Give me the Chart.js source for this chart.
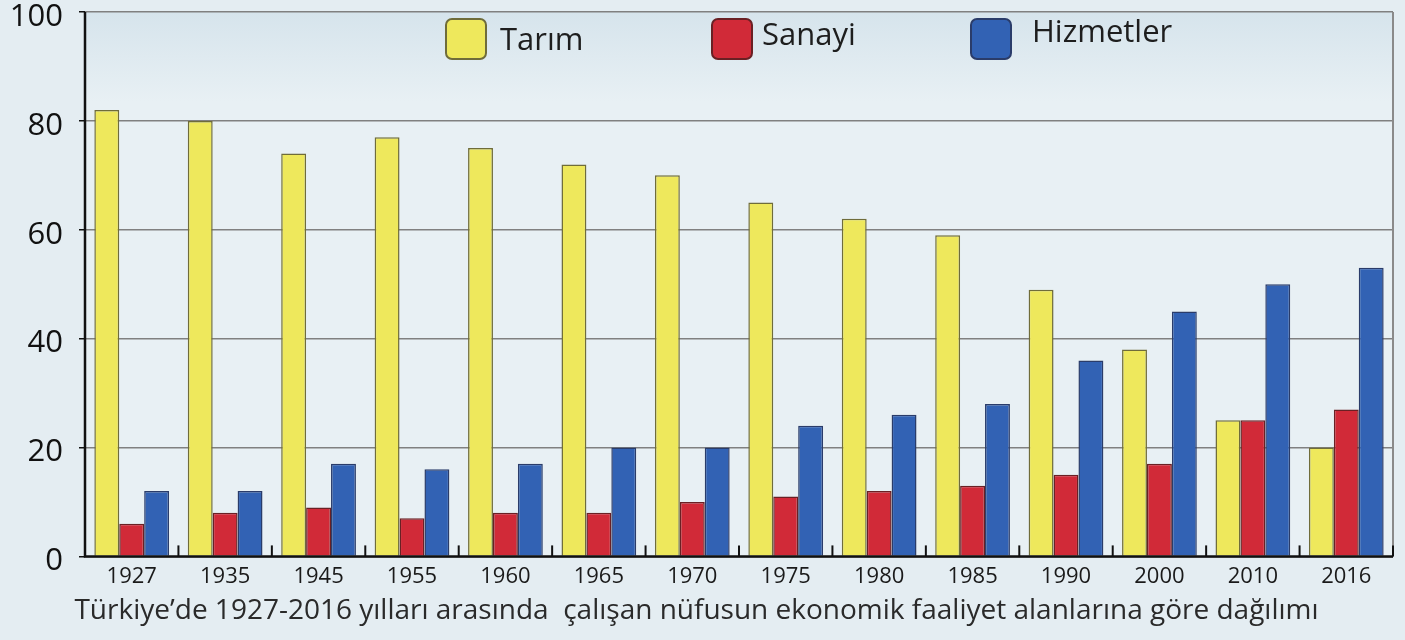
<!DOCTYPE html>
<html>
<head>
<meta charset="utf-8">
<script src="https://cdn.jsdelivr.net/npm/chart.js@4"></script>
<style>
  body { margin: 0; background: #e4edf2; }
  #wrap { width: 1405px; height: 640px; }
</style>
</head>
<body>
<div id="wrap"><canvas id="myChart" width="1405" height="640"></canvas></div>
<script>
const ctx = document.getElementById('myChart');

const years = ["1927", "1935", "1945", "1955", "1960", "1965", "1970", "1975", "1980", "1985", "1990", "2000", "2010", "2016"]
const tarim = [82, 80, 74, 77, 75, 72, 70, 65, 62, 59, 49, 38, 25, 20]
const sanayi = [6, 8, 9, 7, 8, 8, 10, 11, 12, 13, 15, 17, 25, 27]
const hizmetler = [12, 12, 17, 16, 17, 20, 20, 24, 26, 28, 36, 45, 50, 53]
const yTicks = [0, 20, 40, 60, 80, 100]
const title = "Türkiye’de 1927-2016 yılları arasında  çalışan nüfusun ekonomik faaliyet alanlarına göre dağılımı"

// legend spots inside the plot, like the picture
const legendSpots = [
  {box: 446, text: 500, ty: 41},
  {box: 712, text: 762, ty: 36},
  {box: 971, text: 1032, ty: 33}
]

Chart.defaults.font.family = "'Open Sans', sans-serif";
Chart.defaults.color = '#222';

const decor = {
  id: 'decor',
  beforeDraw(chart) {
    const c = chart.ctx, a = chart.chartArea;
    c.save();
    c.fillStyle = '#e4edf2';
    c.fillRect(0, 0, chart.width, chart.height);
    let g = c.createLinearGradient(0, a.top, 0, a.top + 90);
    g.addColorStop(0, '#d6e4ec');
    g.addColorStop(1, '#e8f0f4');
    c.fillStyle = g;
    c.fillRect(a.left, a.top, a.right - a.left, a.bottom - a.top);
    c.restore();
  },
  afterDraw(chart) {
    const c = chart.ctx, a = chart.chartArea, x = chart.scales.x;
    c.save();
    // right border
    c.strokeStyle = '#8a8a8a';
    c.lineWidth = 2;
    c.beginPath();
    c.moveTo(a.right, a.top);
    c.lineTo(a.right, a.bottom);
    c.stroke();
    // axes
    c.strokeStyle = '#111';
    c.lineWidth = 2.5;
    c.beginPath();
    c.moveTo(a.left, a.top);
    c.lineTo(a.left, a.bottom);
    c.lineTo(a.right, a.bottom);
    c.stroke();
    // inward ticks between the year groups
    c.lineWidth = 2;
    for (let i = 0; i < years.length; i++) {
      let px = i < years.length - 1 ? (x.getPixelForValue(i) + x.getPixelForValue(i + 1)) / 2 : a.right;
      c.beginPath();
      c.moveTo(px, a.bottom);
      c.lineTo(px, a.bottom - 11);
      c.stroke();
    }
    // legend
    c.font = "31px 'Open Sans', sans-serif";
    c.textBaseline = 'middle';
    chart.data.datasets.forEach((ds, i) => {
      const s = legendSpots[i];
      c.fillStyle = ds.backgroundColor;
      c.strokeStyle = ds.borderColor;
      c.lineWidth = 2;
      c.beginPath();
      c.roundRect(s.box, 19, 40, 40, 6);
      c.fill();
      c.stroke();
      c.fillStyle = '#1e1e1e';
      c.fillText(ds.label, s.text, s.ty);
    });
    c.restore();
  }
};

new Chart(ctx, {
  type: 'bar',
  data: {
    labels: years,
    datasets: [
      {label: 'Tarım', data: tarim, backgroundColor: '#eee85c', borderColor: '#6f6c3a', borderWidth: 1.5},
      {label: 'Sanayi', data: sanayi, backgroundColor: '#d12a38', borderColor: '#6a2024', borderWidth: 1.5},
      {label: 'Hizmetler', data: hizmetler, backgroundColor: '#3262b4', borderColor: '#2a3c6a', borderWidth: 1.5}
    ]
  },
  options: {
    responsive: false,
    animation: false,
    layout: {padding: {top: 12, right: 12, left: 0, bottom: 0}},
    datasets: {bar: {categoryPercentage: 0.8, barPercentage: 1.0}},
    plugins: {
      legend: {display: false},
      tooltip: {enabled: false},
      title: {
        display: true,
        position: 'bottom',
        align: 'center',
        text: title,
        color: '#2a2a2a',
        font: {size: 28, weight: 'normal'},
        padding: {top: 6, bottom: 12}
      }
    },
    scales: {
      x: {
        grid: {display: false, drawTicks: false},
        border: {display: false},
        ticks: {padding: 7, font: {size: 22}, color: '#1a1a1a'},
        afterFit: s => { s.height = 32 }
      },
      y: {
        min: 0,
        max: 100,
        afterBuildTicks: s => { s.ticks = yTicks.map(v => ({value: v})) },
        afterFit: s => { s.width = 85; s.paddingTop = 0; s.paddingBottom = 0 },
        grid: {color: '#808080', lineWidth: 1.5, tickLength: 6, tickColor: '#111'},
        border: {display: false},
        ticks: {padding: 16, labelOffset: 5, font: {size: 31}, color: '#111'}
      }
    }
  },
  plugins: [decor]
});
</script>
</body>
</html>
